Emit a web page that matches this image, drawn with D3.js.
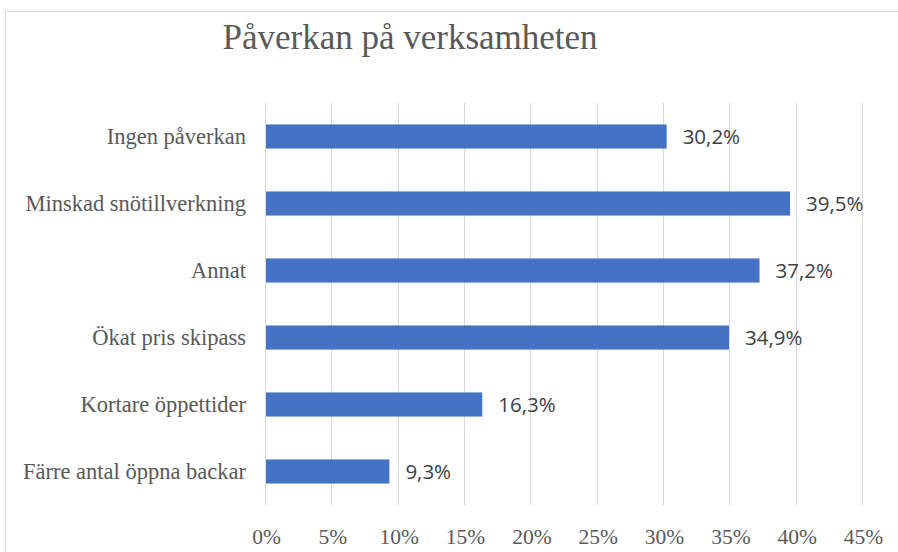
<!DOCTYPE html>
<html>
<head>
<meta charset="utf-8">
<script src="https://cdn.jsdelivr.net/npm/d3@7"></script>
<style>
  body { margin: 0; background: #fff; }
</style>
</head>
<body>
<div id="chart"></div>
<script>
// data
var categories = ["Ingen påverkan", "Minskad snötillverkning", "Annat", "Ökat pris skipass", "Kortare öppettider", "Färre antal öppna backar"];
var values = [30.2, 39.5, 37.2, 34.9, 16.3, 9.3];
var ticks = [0, 5, 10, 15, 20, 25, 30, 35, 40, 45];
var title = "Påverkan på verksamheten";

var W = 898, H = 552;
var margin = {top: 103, right: 35, bottom: 47, left: 266};

var svg = d3.select("#chart").append("svg")
    .attr("width", W)
    .attr("height", H);

// chart frame (runs off the right and bottom edges)
svg.append("rect")
    .attr("x", 5.5).attr("y", 11.5)
    .attr("width", W + 20).attr("height", H + 20)
    .attr("fill", "none")
    .attr("stroke", "#d9d9d9")
    .attr("stroke-width", 1);

svg.append("text")
    .attr("x", 410).attr("y", 49)
    .attr("text-anchor", "middle")
    .attr("font-family", "'Liberation Serif', 'DejaVu Serif', serif")
    .attr("font-size", 35)
    .attr("fill", "#595959")
    .text(title);

var g = svg.append("g")
    .attr("transform", "translate(" + margin.left + "," + margin.top + ")");

var x = d3.scaleLinear().domain([0, 45]).range([0, 597]);
var y = d3.scaleBand().domain(categories).range([0, 402]).paddingInner(0.64).paddingOuter(0.32);

// gridlines
g.selectAll(".grid")
  .data(ticks)
  .enter()
  .append("line")
    .attr("class", "grid")
    .attr("x1", function(d) { return Math.round(x(d)) - 0.5; })
    .attr("x2", function(d) { return Math.round(x(d)) - 0.5; })
    .attr("y1", 0)
    .attr("y2", 402)
    .attr("stroke", "#d9d9d9")
    .attr("stroke-width", 1);

// x axis tick labels
var xAxis = g.append("g")
    .attr("transform", "translate(0,418)")
    .call(d3.axisBottom(x).tickValues(ticks).tickSize(0).tickFormat(function(d) { return d + "%"; }));
xAxis.select(".domain").remove();
xAxis.selectAll("text")
    .attr("dy", "0.95em")
    .attr("font-family", "'Liberation Serif', 'DejaVu Serif', serif")
    .attr("font-size", 21.5)
    .attr("fill", "#595959");

// y axis labels
var yAxis = g.append("g")
    .call(d3.axisLeft(y).tickSize(0).tickPadding(20));
yAxis.select(".domain").remove();
yAxis.selectAll("text")
    .attr("font-family", "'Liberation Serif', 'DejaVu Serif', serif")
    .attr("font-size", 22.5)
    .attr("fill", "#595959");

// bars
g.selectAll(".bar")
  .data(values)
  .enter()
  .append("rect")
    .attr("class", "bar")
    .attr("x", 0)
    .attr("y", function(d, i) { return y(categories[i]); })
    .attr("width", function(d) { return x(d); })
    .attr("height", y.bandwidth())
    .attr("fill", "#4472c4");

// data labels
g.selectAll(".lbl")
  .data(values)
  .enter()
  .append("text")
    .attr("class", "lbl")
    .attr("x", function(d) { return x(d) + 16; })
    .attr("y", function(d, i) { return y(categories[i]) + y.bandwidth() / 2; })
    .attr("dy", "0.36em")
    .attr("font-family", "'Open Sans', 'Liberation Sans', sans-serif")
    .attr("font-size", 20.5)
    .attr("fill", "#404040")
    .text(function(d) { return d.toFixed(1).replace(".", ",") + "%"; });
</script>
</body>
</html>
